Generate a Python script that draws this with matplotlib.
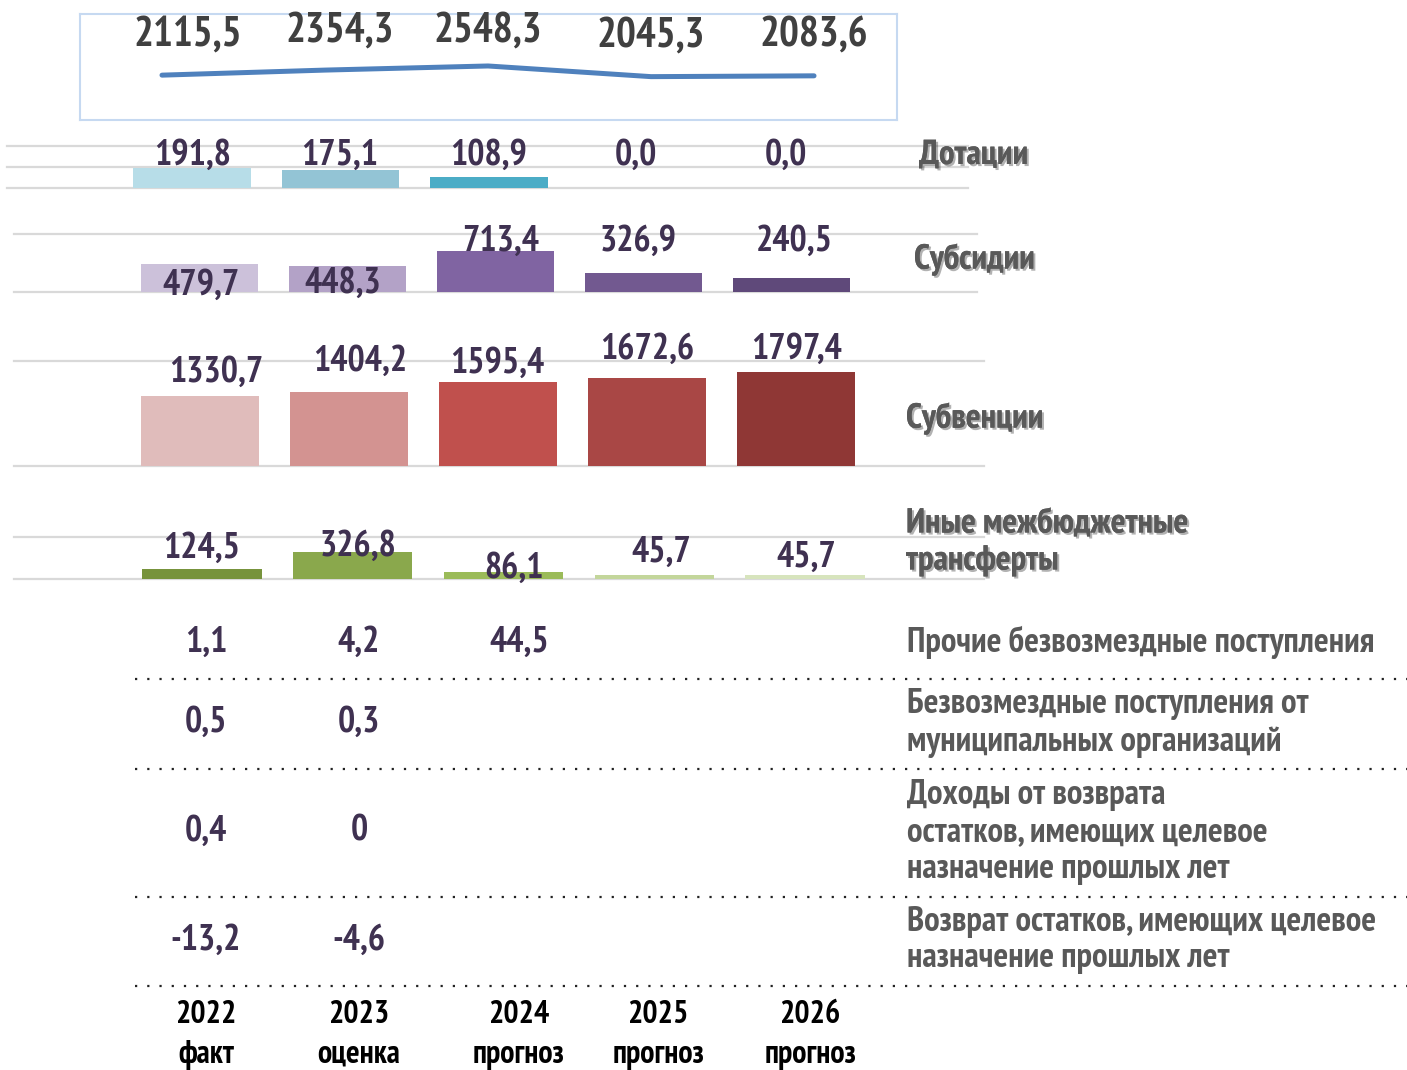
import matplotlib
matplotlib.use("Agg")
import matplotlib.pyplot as plt
import matplotlib.patheffects as pe
from matplotlib.transforms import blended_transform_factory

plt.rcParams['font.family'] = ['PT Sans Narrow', 'DejaVu Sans']
plt.rcParams['font.weight'] = 'bold'

# ---- data ----
years = ["2022", "2023", "2024", "2025", "2026"]
year_notes = ["факт", "оценка", "прогноз", "прогноз", "прогноз"]
total = [2115.5, 2354.3, 2548.3, 2045.3, 2083.6]
dotacii = [191.8, 175.1, 108.9, 0.0, 0.0]
subsidii = [479.7, 448.3, 713.4, 326.9, 240.5]
subvencii = [1330.7, 1404.2, 1595.4, 1672.6, 1797.4]
inye = [124.5, 326.8, 86.1, 45.7, 45.7]
prochie = [1.1, 4.2, 44.5]
municipal = [0.5, 0.3]
dohody_vozvrat = [0.4, 0]
vozvrat = [-13.2, -4.6]

W, H = 1407, 1070
VAL_COLOR = '#3f3151'
CAT_COLOR = '#595959'
GRID_COLOR = '#d9d9d9'
CAT_SIZE = 25


def fmt(v):
    return f"{v:.1f}".replace('.', ',')


def fig_box(x0, y0, x1, y1):
    return [x0 / W, 1 - y1 / H, (x1 - x0) / W, (y1 - y0) / H]


fig = plt.figure(figsize=(W / 100, H / 100), dpi=100)

# background axes in pixel coordinates for the table part
bg = fig.add_axes([0, 0, 1, 1])
bg.set_xlim(0, W)
bg.set_ylim(H, 0)
bg.axis('off')

# ---- top total line ----
ax = fig.add_axes(fig_box(80, 14, 897, 120))
ax.plot(range(5), total, color='#4f81bd', lw=3.6, solid_capstyle='round')
ax.set_xlim(-0.503, 4.509)
ax.set_ylim(0, 5000)
ax.set_xticks([])
ax.set_yticks([])
for s in ax.spines.values():
    s.set_color('#c6d9f1')
    s.set_linewidth(1.5)
tr = blended_transform_factory(ax.transData, fig.transFigure)
tot_dx = [0.16, 0.09, 0, 0, 0]
tot_y = [35, 31, 31, 36, 36]
for i, v in enumerate(total):
    ax.text(i + tot_dx[i], 1 - tot_y[i] / H, fmt(v), transform=tr,
            ha='center', va='center', fontsize=30, color='#404040')

# ---- bar panels ----
panels = [
    dict(vals=dotacii, box=(7, 146, 968, 188), ylim=400, grid=[0, 200, 400],
         c0=192, step=148.5,
         colors=['#b7dde8', '#93c4d5', '#4bacc6', '#4bacc6', '#4bacc6'],
         lab_x=[193, 340, 489, 636, 786], lab_y=[155] * 5,
         name="Дотации", name_xy=(919, 155)),
    dict(vals=subsidii, box=(14, 234, 977, 292), ylim=1000, grid=[0, 1000],
         c0=199.5, step=148,
         colors=['#ccc1da', '#b3a2c7', '#8064a2', '#725990', '#5f497a'],
         lab_x=[201, 343, 501, 638, 794], lab_y=[285, 283, 241, 241, 241],
         name="Субсидии", name_xy=(914, 259)),
    dict(vals=subvencii, box=(14, 361, 984, 466), ylim=2000, grid=[0, 2000],
         c0=200, step=149,
         colors=['#e0bcbb', '#d39391', '#c0504d', '#a94745', '#8f3735'],
         lab_x=[216, 360, 497, 647, 797], lab_y=[372, 361, 363, 349, 349],
         name="Субвенции", name_xy=(906, 418)),
    dict(vals=inye, box=(14, 537, 984, 579), ylim=500, grid=[0, 500],
         c0=202, step=150.75,
         colors=['#77933c', '#8aa84c', '#9bbb59', '#c3d69b', '#d7e4bd'],
         lab_x=[202, 358, 514, 661, 806], lab_y=[548, 546, 568, 552, 557],
         name="Иные межбюджетные\nтрансферты", name_xy=(906, 542)),
]

shadow = [pe.withSimplePatchShadow(offset=(1.5, -1.5), shadow_rgbFace='#000000', alpha=0.3),
          pe.Normal()]

for p in panels:
    x0, y0, x1, y1 = p['box']
    ax = fig.add_axes(fig_box(x0, y0, x1, y1))
    ax.set_xlim((x0 - p['c0']) / p['step'], (x1 - p['c0']) / p['step'])
    ax.set_ylim(0, p['ylim'])
    for g in p['grid']:
        ax.axhline(g, color=GRID_COLOR, lw=1.6, zorder=0, clip_on=False)
    ax.bar(range(5), p['vals'], width=0.79, color=p['colors'], zorder=2)
    ax.axis('off')
    for i, v in enumerate(p['vals']):
        fig.text(p['lab_x'][i] / W, 1 - p['lab_y'][i] / H, fmt(v), ha='center', va='center',
                 fontsize=26, color=VAL_COLOR, zorder=5)
    nx, ny = p['name_xy']
    t = fig.text(nx / W, 1 - ny / H, p['name'], ha='left', va='center',
                 fontsize=CAT_SIZE, color=CAT_COLOR, linespacing=1.2)
    t.set_path_effects(shadow)

# ---- lower table rows ----
col_x = [206, 359, 519, 658, 810]
rows = [
    (prochie, "f", 642, "Прочие безвозмездные поступления", 642),
    (municipal, "f", 722, "Безвозмездные поступления от\nмуниципальных организаций", 723),
    (dohody_vozvrat, "g", 831, "Доходы от возврата\nостатков, имеющих целевое\nназначение прошлых лет", 832),
    (vozvrat, "f", 940, "Возврат остатков, имеющих целевое\nназначение прошлых лет", 940),
]
for vals, mode, vy, name, ny in rows:
    for i, v in enumerate(vals):
        s = f"{v:g}".replace('.', ',') if mode == "g" else fmt(v)
        bg.text(col_x[i], vy, s, ha='center', va='center', fontsize=26, color=VAL_COLOR)
    bg.text(907, ny, name, ha='left', va='center', fontsize=CAT_SIZE, color=CAT_COLOR,
            linespacing=1.2)

for y in [679, 769, 897, 986]:
    bg.plot([135, W], [y, y], color='#222222', lw=1.6, ls=(0, (1, 4.5)))

for i, (yr, note) in enumerate(zip(years, year_notes)):
    bg.text(col_x[i], 1015, yr, ha='center', va='center', fontsize=23, color='black')
    bg.text(col_x[i], 1055, note, ha='center', va='center', fontsize=23, color='black')

fig.savefig("out.png", dpi=100)
